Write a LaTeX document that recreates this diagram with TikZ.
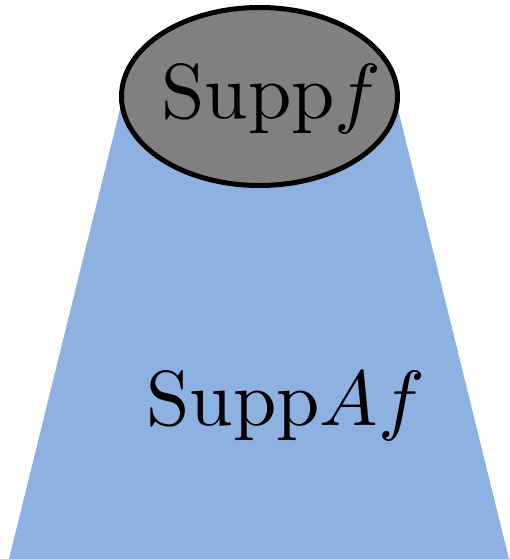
\documentclass[tikz,border=0pt]{standalone}
\usepackage{amsmath}
\usetikzlibrary{shapes.geometric}
\definecolor{conefill}{RGB}{141,178,226}
\definecolor{suppgray}{RGB}{128,128,128}
\tikzset{
  bigtext/.style={scale=7.8, inner sep=0pt},
  suppell/.style={ellipse, draw=black, line width=5pt, fill=suppgray,
    minimum width=276pt, minimum height=178pt, inner sep=0pt}
}
\begin{document}
\begin{tikzpicture}[x=1pt,y=-1pt]
\useasboundingbox (0,0) rectangle (510,559);
\fill[conefill] (123,97) -- (395,97) -- (509,559) -- (9,559) -- cycle;
\node[bigtext, anchor=base west] (af) at (145,425) {$\mathrm{Supp}Af$};
\node[suppell] (f) at (259.5,96.5) {};
\node[bigtext, anchor=base west] (ft) at (160,118) {$\mathrm{Supp}f$};
\end{tikzpicture}
\end{document}
